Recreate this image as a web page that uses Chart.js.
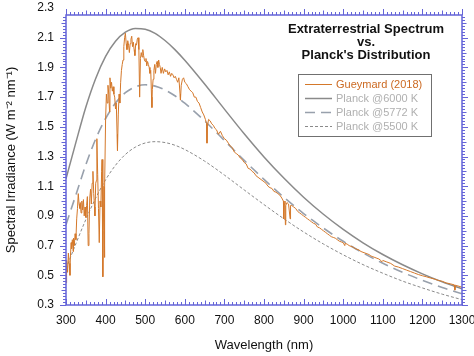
<!DOCTYPE html>
<html><head><meta charset="utf-8">
<script src="https://cdn.jsdelivr.net/npm/chart.js@4.4.1/dist/chart.umd.min.js"></script>
<style>html,body{margin:0;padding:0;background:#fff;}#wrap{width:474px;height:356px;}</style>
</head><body><div id="wrap"><canvas id="c" width="474" height="356"></canvas></div>
<script>
// ---- data ----
const seriesNames = ['Gueymard (2018)', 'Planck @6000 K', 'Planck @5772 K', 'Planck @5500 K'];
const titleLines = ['Extraterrestrial Spectrum', 'vs.', "Planck's Distribution"];
const xTickLabels = [300, 400, 500, 600, 700, 800, 900, 1000, 1100, 1200, 1300];
const yTickLabels = [0.3, 0.5, 0.7, 0.9, 1.1, 1.3, 1.5, 1.7, 1.9, 2.1, 2.3];

const planckWavelengths = [300,325,350,375,400,425,450,475,500,525,550,575,600,650,700,750,800,850,900,950,1000,1050,1100,1150,1200,1250,1300];
const planck6000 = [1.15,1.395,1.632,1.826,1.974,2.076,2.137,2.162,2.157,2.129,2.081,2.020,1.948,1.788,1.619,1.453,1.297,1.155,1.026,0.911,0.809,0.719,0.640,0.571,0.510,0.456,0.409];
const planck5772 = [0.84,1.042,1.244,1.418,1.556,1.660,1.730,1.769,1.783,1.774,1.748,1.709,1.659,1.540,1.408,1.274,1.146,1.026,0.916,0.818,0.729,0.651,0.581,0.520,0.466,0.418,0.376];
const planck5500 = [0.544,0.713,0.875,1.020,1.143,1.241,1.314,1.363,1.391,1.400,1.394,1.376,1.347,1.269,1.175,1.075,0.976,0.881,0.792,0.711,0.638,0.572,0.514,0.461,0.415,0.373,0.336];

const gueyWavelengths = [
300,301,302,304,306,308,310,311,313,314,
316,318,319,321,323,325,327,329,331,333,
335,336,338,340,342,344,346,348,350,352,
354,356,358,360,362,364,366,368,370,372,
373,375,377,378,380,382,384,386,388,390,
391,393,394,396,397,398,400,402,404,406,
408,410,411,413,415,417,419,421,423,425,
427,429,430,432,434,436,438,440,442,444,
446,448,450,452,454,456,458,460,462,464,
466,468,470,472,474,476,478,480,482,484,
486,488,490,492,494,496,498,500,502,504,
506,508,510,512,514,516,517,518,520,522,
524,526,528,530,532,534,536,538,540,543,
546,549,552,555,558,561,564,567,570,573,
576,579,582,585,588,589,591,594,597,600,
604,608,612,616,620,624,628,632,636,640,
644,648,652,655,656,657,660,664,668,672,
676,680,685,690,695,700,705,710,715,720,
725,730,735,740,745,750,755,760,765,770,
775,780,785,790,795,800,805,810,815,820,
825,830,835,840,845,849,850,851,853,854,
855,858,862,866,867,870,875,880,885,890,
895,900,905,910,915,920,925,930,935,940,
945,950,955,960,965,970,975,980,985,990,
995,1000,1004,1005,1010,1015,1020,1025,1030,1035,
1040,1045,1050,1055,1060,1065,1070,1075,1080,1085,
1090,1095,1097,1100,1110,1120,1130,1140,1150,1160,
1170,1180,1190,1200,1210,1220,1230,1240,1250,1260,
1270,1280,1282,1284,1290,1300];
const gueyValues = [
0.45,0.55,0.60,0.52,0.65,0.58,0.50,0.62,0.72,0.68,
0.74,0.66,0.75,0.70,0.78,0.74,0.88,0.95,1.05,0.98,
0.95,0.99,0.92,1.00,0.94,1.01,0.90,0.96,0.89,0.97,
1.03,0.70,0.78,1.02,1.08,0.98,1.12,1.20,1.05,0.96,
0.90,1.12,1.14,1.42,1.18,0.95,0.72,1.00,0.96,1.20,
1.28,0.49,0.80,1.10,0.62,1.10,1.55,1.72,1.66,1.78,
1.72,1.60,1.83,1.76,1.80,1.74,1.77,1.72,1.70,1.62,
1.66,1.45,1.34,1.58,1.72,1.66,1.80,1.88,1.92,1.95,
2.04,2.10,2.13,2.06,2.02,2.08,2.05,2.00,2.06,2.09,
2.11,2.04,2.07,2.02,1.98,2.06,2.05,2.09,2.10,2.02,
1.70,1.96,2.00,1.97,2.02,1.98,1.95,1.94,1.96,1.91,
1.94,1.92,1.90,1.86,1.88,1.70,1.63,1.75,1.82,1.88,
1.92,1.86,1.92,1.94,1.90,1.95,1.92,1.90,1.86,1.90,
1.86,1.89,1.87,1.88,1.85,1.87,1.84,1.86,1.85,1.83,
1.84,1.82,1.80,1.83,1.72,1.68,1.78,1.82,1.83,1.80,
1.79,1.77,1.75,1.74,1.73,1.70,1.70,1.67,1.66,1.63,
1.60,1.58,1.55,1.52,1.39,1.50,1.55,1.54,1.52,1.51,
1.49,1.48,1.45,1.47,1.44,1.42,1.41,1.39,1.37,1.36,
1.33,1.32,1.31,1.29,1.28,1.26,1.25,1.22,1.215,1.20,
1.19,1.17,1.16,1.15,1.14,1.13,1.12,1.10,1.09,1.085,
1.065,1.06,1.05,1.04,1.02,1.00,0.88,0.98,1.00,0.84,
0.97,0.99,0.98,0.88,0.97,0.97,0.96,0.95,0.93,0.92,
0.91,0.90,0.89,0.88,0.87,0.86,0.85,0.845,0.825,0.82,
0.81,0.80,0.79,0.78,0.77,0.76,0.755,0.75,0.74,0.73,
0.725,0.72,0.70,0.715,0.71,0.70,0.695,0.69,0.68,0.675,
0.67,0.66,0.655,0.65,0.645,0.64,0.63,0.625,0.62,0.615,
0.61,0.60,0.59,0.60,0.59,0.58,0.562,0.555,0.545,0.535,
0.525,0.515,0.505,0.497,0.49,0.482,0.475,0.466,0.46,0.449,
0.443,0.436,0.40,0.432,0.428,0.42];

// ---- styling ----
const FONT = "'Liberation Sans', Arial, Helvetica, sans-serif";
const AXIS_BLUE = '#6464d8';

function pts(xs, ys) { return xs.map((x, i) => ({ x: x, y: ys[i] })); }

const framePlugin = {
  id: 'frame',
  afterDatasetsDraw(chart) {
    const ctx = chart.ctx;
    const xs = chart.scales.x, ys = chart.scales.y;
    const a = chart.chartArea;
    ctx.save();
    ctx.strokeStyle = AXIS_BLUE;
    ctx.lineWidth = 1.5;
    ctx.strokeRect(a.left, a.top, a.right - a.left, a.bottom - a.top);
    ctx.lineWidth = 1;
    ctx.beginPath();
    for (let v = 300; v <= 1300; v += 10) {
      const p = Math.round(xs.getPixelForValue(v)) + 0.5;
      const len = v % 100 === 0 ? 6 : (v % 50 === 0 ? 4.5 : 3);
      ctx.moveTo(p, a.bottom); ctx.lineTo(p, a.bottom - len);
      ctx.moveTo(p, a.top); ctx.lineTo(p, a.top - len);
    }
    for (let k = 0; k < 100; k++) {
      const v = 0.3 + 0.02 * k;
      if (v > ys.max + 1e-9) break;
      const p = Math.round(ys.getPixelForValue(v)) + 0.5;
      const len = k % 10 === 0 ? 6 : (k % 5 === 0 ? 4.5 : 3);
      ctx.moveTo(a.left, p); ctx.lineTo(a.left - len, p);
      ctx.moveTo(a.right, p); ctx.lineTo(a.right + len, p);
    }
    ctx.stroke();
    ctx.restore();
  },
  afterDraw(chart) {
    const ctx = chart.ctx;
    ctx.save();
    // title
    ctx.fillStyle = '#111';
    ctx.font = 'bold 13px ' + FONT;
    ctx.textAlign = 'center';
    ctx.textBaseline = 'middle';
    titleLines.forEach((t, i) => ctx.fillText(t, 366, 29 + i * 13));
    // legend
    const bx = 298.5, by = 74.5, bw = 133, bh = 62;
    ctx.fillStyle = '#fff';
    ctx.fillRect(bx, by, bw, bh);
    ctx.strokeStyle = '#707070';
    ctx.lineWidth = 1;
    ctx.strokeRect(bx, by, bw, bh);
    ctx.font = '11px ' + FONT;
    ctx.textAlign = 'left';
    const textColors = ['#cc6a22', '#b0b0b0', '#b0b0b0', '#b0b0b0'];
    chart.data.datasets.forEach((ds, i) => {
      const y = 84.5 + i * 14;
      ctx.save();
      ctx.strokeStyle = ds.borderColor;
      ctx.lineWidth = ds.borderWidth;
      ctx.setLineDash(ds.borderDash || []);
      ctx.beginPath();
      ctx.moveTo(305, y); ctx.lineTo(332, y);
      ctx.stroke();
      ctx.restore();
      ctx.fillStyle = textColors[i];
      ctx.fillText(ds.label, 336, y + 0.5);
    });
    ctx.restore();
  }
};

new Chart(document.getElementById('c'), {
  type: 'line',
  data: {
    datasets: [
      { label: seriesNames[0], data: pts(gueyWavelengths, gueyValues), borderColor: '#d4782a', borderWidth: 1, pointRadius: 0, tension: 0 },
      { label: seriesNames[1], data: pts(planckWavelengths, planck6000), borderColor: '#8a8a8a', borderWidth: 1.5, pointRadius: 0, cubicInterpolationMode: 'monotone' },
      { label: seriesNames[2], data: pts(planckWavelengths, planck5772), borderColor: '#98a0ac', borderWidth: 1.6, borderDash: [10, 6], pointRadius: 0, cubicInterpolationMode: 'monotone' },
      { label: seriesNames[3], data: pts(planckWavelengths, planck5500), borderColor: '#8a8a8a', borderWidth: 1, borderDash: [3, 2], pointRadius: 0, cubicInterpolationMode: 'monotone' }
    ]
  },
  options: {
    responsive: false,
    animation: false,
    devicePixelRatio: 1,
    layout: { padding: { left: 0, right: 12, top: 15, bottom: 0 } },
    plugins: { legend: { display: false }, tooltip: { enabled: false }, title: { display: false } },
    scales: {
      x: {
        type: 'linear', min: 300, max: 1300,
        grid: { display: false, drawTicks: false },
        border: { display: false },
        ticks: { font: { family: FONT, size: 12 }, color: '#111', padding: 8, autoSkip: false, maxRotation: 0, callback: v => String(Math.round(v)) },
        afterBuildTicks: s => { s.ticks = xTickLabels.map(v => ({ value: v })); },
        afterFit: s => { s.height = 51; s.paddingLeft = 0; s.paddingRight = 0; },
        title: { display: true, text: 'Wavelength (nm)', color: '#111', font: { family: FONT, size: 13 }, padding: { top: 0, bottom: 3 } }
      },
      y: {
        type: 'linear', min: 0.3, max: 2.253,
        grid: { display: false, drawTicks: false },
        border: { display: false },
        ticks: { font: { family: FONT, size: 12 }, color: '#111', padding: 12, autoSkip: false, callback: v => Number(v).toFixed(1) },
        afterBuildTicks: s => { s.ticks = yTickLabels.map(v => ({ value: v })); },
        afterFit: s => { s.width = 66; s.paddingTop = 0; s.paddingBottom = 0; },
        title: { display: true, text: 'Spectral Irradiance (W m\u207B\u00B2 nm\u207B\u00B9)', color: '#111', font: { family: FONT, size: 13 }, padding: { top: 4, bottom: 0 } }
      }
    }
  },
  plugins: [framePlugin]
});
</script>
</body></html>
